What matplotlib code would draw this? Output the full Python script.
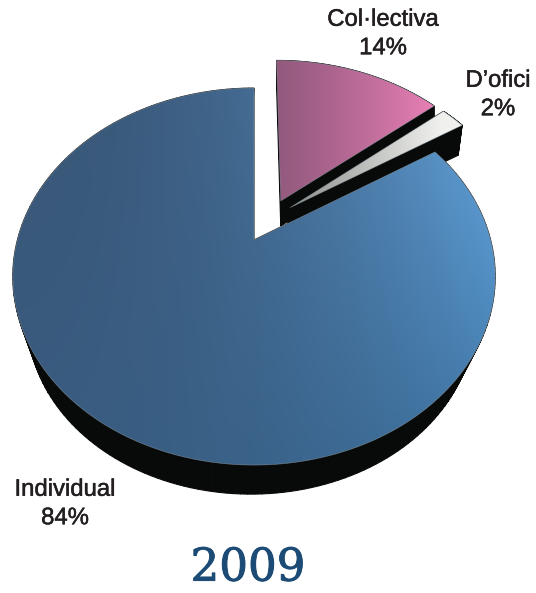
import numpy as np
import matplotlib
matplotlib.use("Agg")
import matplotlib.pyplot as plt
from matplotlib.patches import Polygon
import matplotlib.patheffects as pe
from matplotlib.colors import to_rgb

categories = ["Individual", "Col·lectiva", "D’ofici"]
shares = [84, 14, 2]
year_label = "2009"

# layout (pixels / disc units), separate from the data
W, H = 536, 593
APEX = (254.0, 240.0)
A, B, K = 236.6, 181.4, 0.194
EXPLODE = {"Individual": (0.0, 0.0), "Col·lectiva": (0.118, 0.225), "D’ofici": (0.158, 0.185)}
DEPTH = {"Individual": 29, "Col·lectiva": 25, "D’ofici": 30}
SHRINK = {"Individual": 0.925, "Col·lectiva": 1.0, "D’ofici": 1.0}
SHIFT = {"Individual": -3, "Col·lectiva": 0, "D’ofici": -4}
Z_SIDE = {"Col·lectiva": 10, "D’ofici": 15, "Individual": 30}
Z_TOP = {"D’ofici": 16, "Col·lectiva": 21, "Individual": 31}

fig = plt.figure(figsize=(W / 100, H / 100), dpi=100)
ax = fig.add_axes([0, 0, 1, 1])
ax.set_axis_off()


def project(u, v):
    w = 1 + K * v
    return APEX[0] + A * u / w, APEX[1] - B * v / w


def wedge_uv(start, stop, offset):
    th = np.radians(np.linspace(start, stop, 200))
    u = np.r_[0, np.sin(th)] + offset[0]
    v = np.r_[0, np.cos(th)] + offset[1]
    return u, v


def lower(x, y, name):
    cx, cy = 252.0, 277.0
    s = SHRINK[name]
    return cx + (x - cx) * s + SHIFT[name], cy + (y - cy) * s + DEPTH[name] + (1 - s) * 189


def shade(poly_xy, stops_fn, z):
    x0, x1 = poly_xy[:, 0].min() - 2, poly_xy[:, 0].max() + 2
    y0, y1 = poly_xy[:, 1].min() - 2, poly_xy[:, 1].max() + 2
    X, Y = np.meshgrid(np.linspace(0, 1, 200), np.linspace(0, 1, 200))
    patch = Polygon(poly_xy, closed=True, fc="none", ec="none", transform=ax.transData, zorder=z)
    ax.add_patch(patch)
    im = ax.imshow(stops_fn(X, Y), extent=(x0, x1, y1, y0), aspect="auto", interpolation="bilinear", zorder=z)
    im.set_clip_path(patch)


def rgb(c):
    return np.array(to_rgb(c))


def blue_fill(X, Y):
    tl, tr, bl, br = rgb("#395778"), rgb("#66a8e2"), rgb("#395c80"), rgb("#4078a8")
    xm = (X ** 2.0)[..., None]
    ym = np.clip(Y * 1.1 - 0.05, 0, 1)[..., None]
    return (tl * (1 - xm) + tr * xm) * (1 - ym) + (bl * (1 - xm) + br * xm) * ym


def pink_fill(X, Y):
    a, b = rgb("#935a7e"), rgb("#ea80b6")
    m = (X ** 1.2)[..., None]
    return a * (1 - m) + b * m


def white_fill(X, Y):
    a, b = rgb("#8a8d8a"), rgb("#f0f1ee")
    m = np.clip(X * 1.15, 0, 1)[..., None]
    return a * (1 - m) + b * m


fills = {"Individual": blue_fill, "Col·lectiva": pink_fill, "D’ofici": white_fill}

order = ["Col·lectiva", "D’ofici", "Individual"]
value = dict(zip(categories, shares))
total = sum(shares)
start = 0.0
spans = {}
for name in order:
    stop = start + 360.0 * value[name] / total
    spans[name] = (start, stop)
    start = stop

for name in order:
    s, e = spans[name]
    u, v = wedge_uv(s, e, EXPLODE[name])
    x, y = project(u, v)
    lx, ly = lower(x, y, name)
    n = len(x)
    for i in range(n):
        j = (i + 1) % n
        ax.add_patch(Polygon([(x[i], y[i]), (x[j], y[j]), (lx[j], ly[j]), (lx[i], ly[i])],
                             closed=True, fc="#070a09", ec="#070a09", lw=0.8, zorder=Z_SIDE[name]))
    poly = np.column_stack([x, y])
    shade(poly, fills[name], Z_TOP[name])
    ax.add_patch(Polygon(poly, closed=True, fc="none", ec="#8d9aa5", lw=0.5, alpha=0.6, zorder=Z_TOP[name] + 0.5))

ax.set_xlim(0, W)
ax.set_ylim(H, 0)

label_font = dict(family="Liberation Sans", fontsize=17.2, color="#231f20", ha="center", va="center", linespacing=1.38,
                  path_effects=[pe.withStroke(linewidth=0.35, foreground="#231f20")], zorder=50)
label_pos = {"Col·lectiva": (383, 34), "D’ofici": (498, 95), "Individual": (65, 504)}
for name in categories:
    ax.text(*label_pos[name], f"{name}\n{value[name]}%", **label_font)

ax.text(248, 568, year_label, family="DejaVu Serif", fontsize=32.5, color="#1c4b75", ha="center", va="center", zorder=50,
        path_effects=[pe.withStroke(linewidth=0.7, foreground="#1c4b75")])

fig.savefig("out.png", dpi=100, facecolor="white")
